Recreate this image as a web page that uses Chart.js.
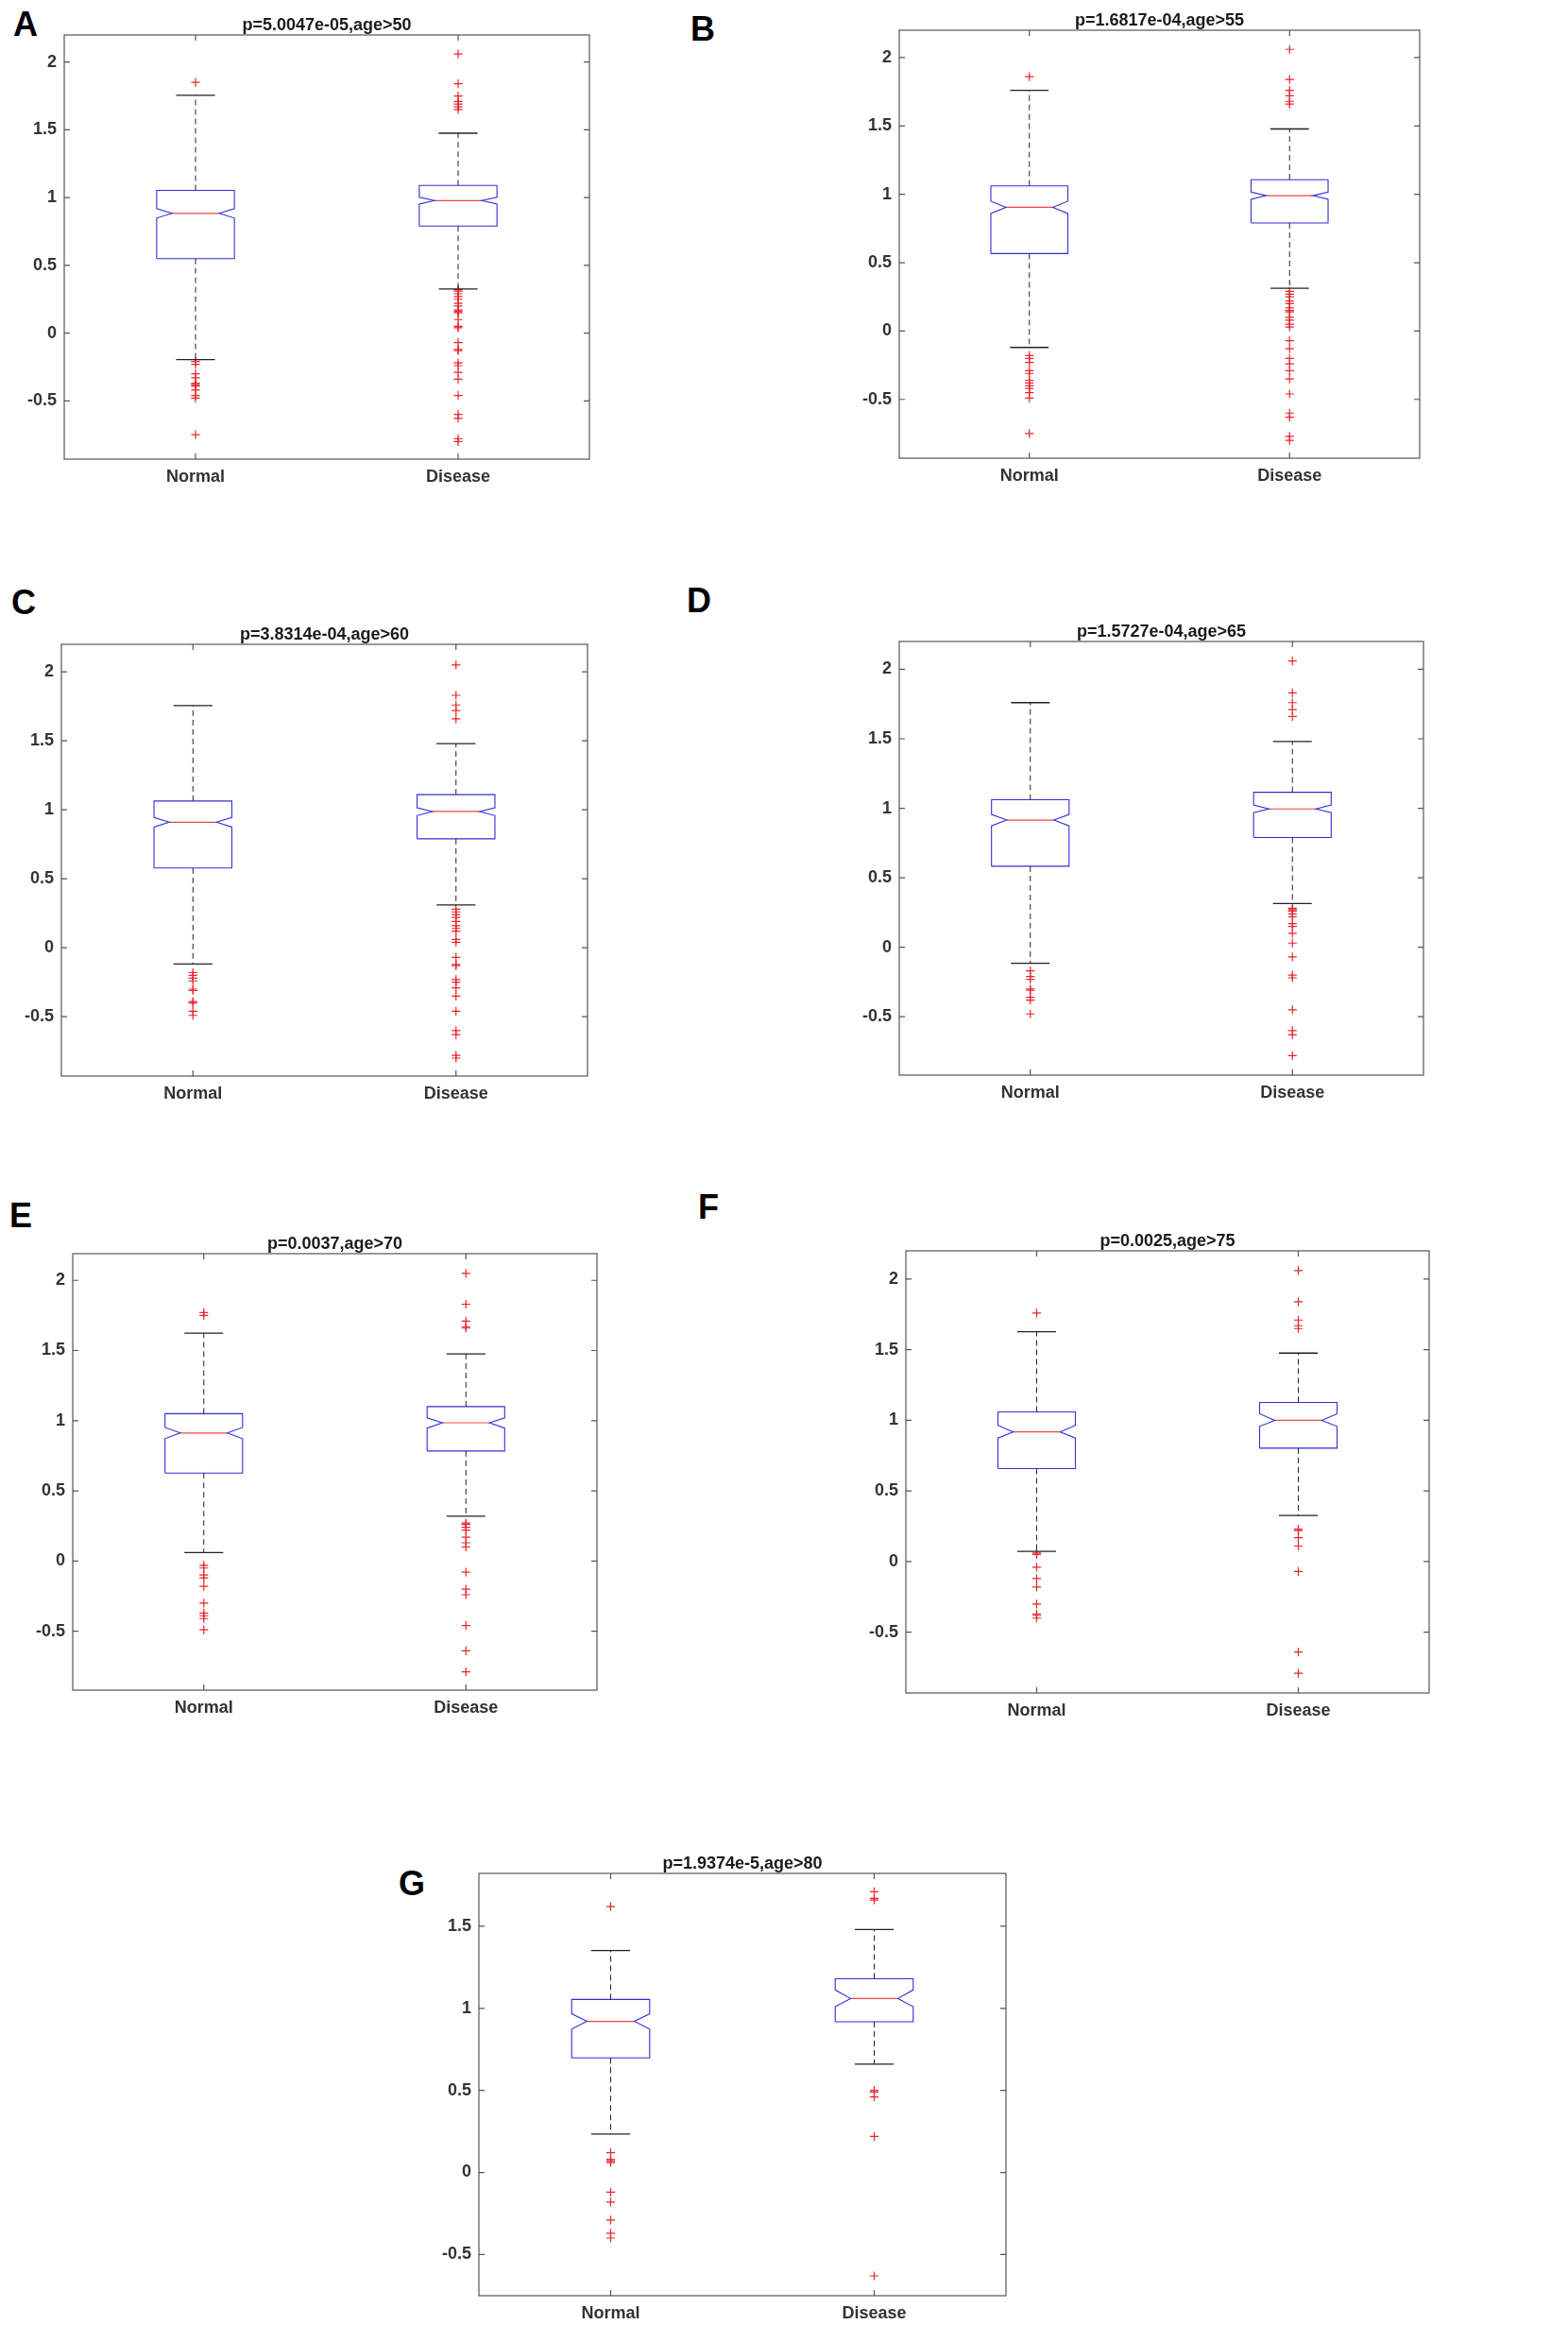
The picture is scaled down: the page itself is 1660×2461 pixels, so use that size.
<!DOCTYPE html>
<html>
<head>
<meta charset="utf-8">
<script src="https://cdn.jsdelivr.net/npm/chart.js@4.4.1/dist/chart.umd.min.js"></script>
<style>
  html, body { margin: 0; padding: 0; background: #fff; }
  #page { position: relative; width: 1660px; height: 2461px; background: #fff; overflow: hidden; }
  canvas { position: absolute; }
  .panel-letter {
    position: absolute;
    font: bold 36px "Liberation Sans", Arial, sans-serif;
    line-height: 36px;
    color: #000;
  }
</style>
</head>
<body>
<div id="page"></div>
<script>
// ---- data ----
const panelLetters = ["A", "B", "C", "D", "E", "F", "G"];
const titles = [
  "p=5.0047e-05,age>50",
  "p=1.6817e-04,age>55",
  "p=3.8314e-04,age>60",
  "p=1.5727e-04,age>65",
  "p=0.0037,age>70",
  "p=0.0025,age>75",
  "p=1.9374e-5,age>80",
];
const groups = ["Normal", "Disease"];

// every row is one panel: [Normal, Disease]
const whiskerHigh = [[1.755, 1.475], [1.76, 1.478], [1.755, 1.48], [1.76, 1.48], [1.624, 1.476], [1.628, 1.476], [1.352, 1.48]];
const q3 = [[1.053, 1.09], [1.062, 1.107], [1.064, 1.11], [1.061, 1.115], [1.05, 1.1], [1.06, 1.127], [1.054, 1.18]];
const notchHigh = [[0.919, 1.002], [0.95, 1.017], [0.944, 1.015], [0.956, 1.024], [0.952, 1.02], [0.965, 1.047], [0.967, 1.112]];
const median = [[0.884, 0.978], [0.905, 0.99], [0.91, 0.988], [0.915, 0.995], [0.912, 0.985], [0.918, 1.0], [0.921, 1.06]];
const notchLow = [[0.849, 0.952], [0.86, 0.963], [0.875, 0.958], [0.873, 0.968], [0.872, 0.947], [0.875, 0.957], [0.873, 1.01]];
const q1 = [[0.55, 0.79], [0.567, 0.79], [0.578, 0.79], [0.583, 0.79], [0.627, 0.784], [0.658, 0.803], [0.698, 0.918]];
const whiskerLow = [[-0.196, 0.325], [-0.12, 0.313], [-0.118, 0.311], [-0.115, 0.315], [0.06, 0.319], [0.072, 0.327], [0.234, 0.66]];

const outliersNormal = [
  [1.85, -0.21, -0.23, -0.3, -0.33, -0.37, -0.38, -0.39, -0.42, -0.46, -0.48, -0.75],
  [1.86, -0.18, -0.2, -0.23, -0.29, -0.31, -0.36, -0.38, -0.4, -0.42, -0.45, -0.49, -0.75],
  [-0.18, -0.2, -0.22, -0.24, -0.3, -0.31, -0.39, -0.4, -0.46, -0.49],
  [-0.17, -0.21, -0.23, -0.3, -0.31, -0.36, -0.38, -0.48],
  [1.77, 1.75, -0.03, -0.05, -0.1, -0.12, -0.18, -0.3, -0.37, -0.39, -0.41, -0.49],
  [1.76, 0.06, 0.05, -0.04, -0.12, -0.18, -0.3, -0.37, -0.38, -0.4],
  [1.62, 0.12, 0.08, 0.07, 0.06, -0.12, -0.18, -0.29, -0.37, -0.4],
];
const outliersDisease = [
  [2.06, 1.84, 1.75, 1.71, 1.69, 1.67, 1.65, 0.32, 0.31, 0.29, 0.27, 0.25, 0.22, 0.2, 0.17, 0.16, 0.15, 0.1, 0.05, 0.04,
   -0.07, -0.12, -0.13, -0.22, -0.24, -0.29, -0.34, -0.46, -0.6, -0.63, -0.78, -0.8],
  [2.06, 1.84, 1.76, 1.72, 1.68, 1.66, 0.29, 0.27, 0.25, 0.22, 0.2, 0.17, 0.15, 0.14, 0.1, 0.08, 0.05, 0.03,
   -0.07, -0.13, -0.2, -0.24, -0.29, -0.35, -0.46, -0.6, -0.63, -0.77, -0.8],
  [2.05, 1.83, 1.76, 1.72, 1.66, 0.28, 0.26, 0.24, 0.22, 0.19, 0.16, 0.14, 0.12, 0.06, 0.04,
   -0.07, -0.12, -0.13, -0.23, -0.25, -0.29, -0.35, -0.46, -0.6, -0.63, -0.78, -0.8],
  [2.06, 1.83, 1.76, 1.71, 1.66, 0.28, 0.27, 0.26, 0.24, 0.22, 0.17, 0.15, 0.1, 0.03, -0.07, -0.2, -0.22, -0.45, -0.6, -0.63, -0.78],
  [2.05, 1.83, 1.71, 1.67, 1.66, 0.27, 0.26, 0.24, 0.22, 0.17, 0.13, 0.1, -0.08, -0.2, -0.24, -0.46, -0.64, -0.79],
  [2.06, 1.84, 1.71, 1.67, 1.65, 0.23, 0.22, 0.17, 0.11, -0.07, -0.64, -0.79],
  [1.71, 1.67, 1.66, 0.5, 0.49, 0.46, 0.22, -0.63],
];

const yMin = [-0.93, -0.93, -0.93, -0.92, -0.92, -0.93, -0.751];
const yMax = [2.2, 2.2, 2.2, 2.2, 2.19, 2.2, 1.822];
const yTicksFull = [-0.5, 0, 0.5, 1, 1.5, 2];
const yTicksShort = [-0.5, 0, 0.5, 1, 1.5];
const yTickSets = [yTicksFull, yTicksFull, yTicksFull, yTicksFull, yTicksFull, yTicksFull, yTicksShort];

// ---- layout (page pixels): plot area left, right, top, bottom ----
const plotFrames = [
  [68, 624, 37, 486],
  [952, 1503, 32, 485],
  [65, 622, 682, 1139],
  [952, 1507, 679, 1138],
  [77, 632, 1327, 1789],
  [959, 1513, 1324, 1792],
  [507, 1065, 1983, 2430],
];
const letterCenters = [[27, 26], [744, 31], [25, 638], [740, 636], [23, 1287], [752, 1278], [435, 1994]];

const FONT = '"Liberation Sans", Arial, sans-serif';
const BOX_HALF = 0.148;
const NOTCH_HALF = 0.09;
const CAP_HALF = 0.074;
const Y_AXIS_W = 70;
const X_AXIS_H = 40;
const TITLE_H = 30;
const PAD_RIGHT = 6;

const BLUE = "#2f2fd6";
const RED = "rgb(232, 36, 44)";
const MEDIAN_RED = "rgb(240, 70, 70)";
const BLACK = "#222";

const lineSet = (data, color, width, dash) => ({
  type: "scatter",
  data: data,
  showLine: true,
  borderColor: color,
  borderWidth: width,
  borderDash: dash || [],
  pointRadius: 0,
  pointHoverRadius: 0,
  fill: false,
});

const buildDatasets = (p) => {
  const sets = [];
  [0, 1].forEach((g) => {
    const c = g + 1;
    // whiskers
    sets.push(lineSet([{ x: c, y: q3[p][g] }, { x: c, y: whiskerHigh[p][g] }], BLACK, 1, [6, 4]));
    sets.push(lineSet([{ x: c, y: q1[p][g] }, { x: c, y: whiskerLow[p][g] }], BLACK, 1, [6, 4]));
    sets.push(lineSet([{ x: c - CAP_HALF, y: whiskerHigh[p][g] }, { x: c + CAP_HALF, y: whiskerHigh[p][g] }], BLACK, 1.3));
    sets.push(lineSet([{ x: c - CAP_HALF, y: whiskerLow[p][g] }, { x: c + CAP_HALF, y: whiskerLow[p][g] }], BLACK, 1.3));
    // notched box
    sets.push(lineSet([
      { x: c - BOX_HALF, y: q1[p][g] },
      { x: c + BOX_HALF, y: q1[p][g] },
      { x: c + BOX_HALF, y: notchLow[p][g] },
      { x: c + NOTCH_HALF, y: median[p][g] },
      { x: c + BOX_HALF, y: notchHigh[p][g] },
      { x: c + BOX_HALF, y: q3[p][g] },
      { x: c - BOX_HALF, y: q3[p][g] },
      { x: c - BOX_HALF, y: notchHigh[p][g] },
      { x: c - NOTCH_HALF, y: median[p][g] },
      { x: c - BOX_HALF, y: notchLow[p][g] },
      { x: c - BOX_HALF, y: q1[p][g] },
    ], BLUE, 1.1));
    // median
    sets.push(lineSet([{ x: c - NOTCH_HALF, y: median[p][g] }, { x: c + NOTCH_HALF, y: median[p][g] }], MEDIAN_RED, 1.2));
    // outliers
    const outs = g === 0 ? outliersNormal[p] : outliersDisease[p];
    sets.push({
      type: "scatter",
      data: outs.map((v) => ({ x: c, y: v })),
      pointStyle: "cross",
      pointRadius: 4.6,
      pointHoverRadius: 4.6,
      borderColor: RED,
      pointBorderColor: RED,
      borderWidth: 1.2,
      pointBorderWidth: 1.2,
    });
  });
  return sets;
};

// box frame with inward ticks and a title centred over the axes, like MATLAB
const framePlugin = {
  id: "matlabFrame",
  afterDraw(chart, args, opts) {
    const { ctx, chartArea: a, scales } = chart;
    ctx.save();
    ctx.strokeStyle = "#555";
    ctx.lineWidth = 1.2;
    ctx.strokeRect(a.left, a.top, a.right - a.left, a.bottom - a.top);
    ctx.beginPath();
    scales.y.ticks.forEach((t) => {
      const py = scales.y.getPixelForValue(t.value);
      ctx.moveTo(a.left, py);
      ctx.lineTo(a.left + 6, py);
      ctx.moveTo(a.right, py);
      ctx.lineTo(a.right - 6, py);
    });
    scales.x.ticks.forEach((t) => {
      const px = scales.x.getPixelForValue(t.value);
      ctx.moveTo(px, a.bottom);
      ctx.lineTo(px, a.bottom - 6);
      ctx.moveTo(px, a.top);
      ctx.lineTo(px, a.top + 6);
    });
    ctx.stroke();

    ctx.fillStyle = "#1a1a1a";
    ctx.font = 'bold 18px ' + FONT;
    ctx.textAlign = "center";
    ctx.textBaseline = "alphabetic";
    ctx.fillText(opts.text, (a.left + a.right) / 2, a.top - 5);
    ctx.restore();
  },
};

const page = document.getElementById("page");

panelLetters.forEach((letter, p) => {
  const [left, right, top, bottom] = plotFrames[p];

  const lab = document.createElement("div");
  lab.className = "panel-letter";
  lab.textContent = letter;
  lab.style.left = letterCenters[p][0] - 13 + "px";
  lab.style.top = letterCenters[p][1] - 18 + "px";
  page.appendChild(lab);

  const canvas = document.createElement("canvas");
  const w = Y_AXIS_W + (right - left) + PAD_RIGHT;
  const h = TITLE_H + (bottom - top) + X_AXIS_H;
  canvas.width = w;
  canvas.height = h;
  canvas.style.width = w + "px";
  canvas.style.height = h + "px";
  canvas.style.left = left - Y_AXIS_W + "px";
  canvas.style.top = top - TITLE_H + "px";
  page.appendChild(canvas);

  new Chart(canvas, {
    type: "scatter",
    data: { datasets: buildDatasets(p) },
    plugins: [framePlugin],
    options: {
      responsive: false,
      animation: false,
      devicePixelRatio: 1,
      layout: { padding: { left: 0, right: PAD_RIGHT, top: TITLE_H, bottom: 0 } },
      plugins: {
        legend: { display: false },
        tooltip: { enabled: false },
        title: { display: false },
        matlabFrame: { text: titles[p] },
      },
      scales: {
        x: {
          type: "linear",
          min: 0.5,
          max: 2.5,
          afterBuildTicks: (scale) => {
            scale.ticks = groups.map((_, i) => ({ value: i + 1 }));
          },
          afterFit: (scale) => {
            scale.height = X_AXIS_H;
          },
          ticks: {
            callback: (value) => groups[value - 1],
            color: "#333",
            font: { family: FONT, size: 18, weight: "bold" },
            padding: 8,
            maxRotation: 0,
          },
          grid: { display: false, drawTicks: false },
          border: { display: false },
        },
        y: {
          type: "linear",
          min: yMin[p],
          max: yMax[p],
          afterBuildTicks: (scale) => {
            scale.ticks = yTickSets[p].map((v) => ({ value: v }));
          },
          afterFit: (scale) => {
            scale.width = Y_AXIS_W;
          },
          ticks: {
            callback: (value) => String(value),
            color: "#333",
            font: { family: FONT, size: 18, weight: "bold" },
            padding: 8,
          },
          grid: { display: false, drawTicks: false },
          border: { display: false },
        },
      },
    },
  });
});
</script>
</body>
</html>
